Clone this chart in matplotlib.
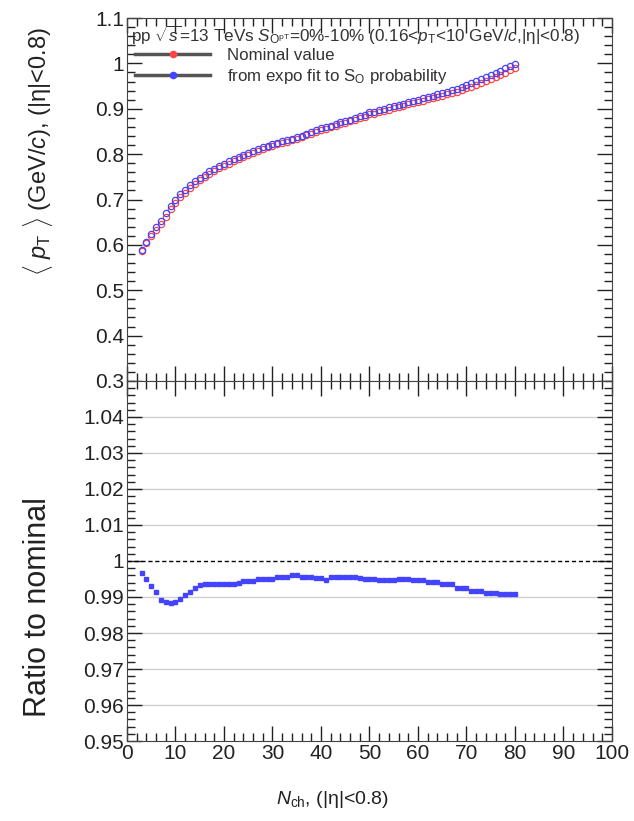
import matplotlib
matplotlib.use("Agg")
import matplotlib.pyplot as plt
import numpy as np
from matplotlib.lines import Line2D
from matplotlib.ticker import MultipleLocator, FixedLocator

plt.rcParams['font.family'] = ['Liberation Sans', 'DejaVu Sans']
plt.rcParams['mathtext.fontset'] = 'custom'
plt.rcParams['mathtext.rm'] = 'Liberation Sans'
plt.rcParams['mathtext.it'] = 'Liberation Sans:italic'

# N_ch bins
nch = list(range(3, 81))

# <pT> from expo fit to S_O probability (blue)
pt_fit = [0.588, 0.606, 0.624, 0.639, 0.653, 0.670, 0.686, 0.700, 0.712, 0.722,
          0.731, 0.740, 0.748, 0.755, 0.762, 0.768, 0.774, 0.779, 0.784, 0.789,
          0.794, 0.799, 0.803, 0.807, 0.811, 0.815, 0.819, 0.822, 0.825, 0.828,
          0.831, 0.834, 0.837, 0.841, 0.845, 0.849, 0.853, 0.857, 0.860, 0.863,
          0.867, 0.870, 0.873, 0.876, 0.880, 0.883, 0.887, 0.892, 0.894, 0.897,
          0.900, 0.903, 0.906, 0.909, 0.911, 0.914, 0.917, 0.920, 0.923, 0.926,
          0.929, 0.932, 0.935, 0.938, 0.941, 0.944, 0.948, 0.952, 0.956, 0.961,
          0.965, 0.970, 0.974, 0.979, 0.984, 0.989, 0.994, 0.999]

# ratio to nominal
ratio = [0.9968, 0.9951, 0.9931, 0.9913, 0.9893, 0.9885, 0.9883, 0.9887, 0.9895, 0.9905,
         0.9915, 0.9924, 0.9932, 0.9936, 0.9937, 0.9937, 0.9937, 0.9937, 0.9937, 0.9937,
         0.9940, 0.9944, 0.9944, 0.9944, 0.9949, 0.9949, 0.9949, 0.9949, 0.9955, 0.9955,
         0.9955, 0.9961, 0.9960, 0.9956, 0.9956, 0.9956, 0.9953, 0.9953, 0.9948, 0.9955,
         0.9955, 0.9955, 0.9956, 0.9956, 0.9956, 0.9953, 0.9951, 0.9951, 0.9950, 0.9948,
         0.9948, 0.9948, 0.9948, 0.9951, 0.9951, 0.9951, 0.9947, 0.9947, 0.9947, 0.9942,
         0.9942, 0.9942, 0.9936, 0.9936, 0.9936, 0.9924, 0.9924, 0.9924, 0.9917, 0.9917,
         0.9917, 0.9912, 0.9912, 0.9912, 0.9907, 0.9907, 0.9907, 0.9907]

pt_nominal = np.array(pt_fit) * np.array(ratio)

fig = plt.figure(figsize=(6.34, 8.21), dpi=100)
ax1 = fig.add_axes([0.2003, 0.536, 0.765, 0.442])
ax2 = fig.add_axes([0.2003, 0.0974, 0.765, 0.4386], sharex=ax1)

ax1.plot(nch, pt_nominal, ls="none", marker="o", ms=4.5, mfc="none", mec="#ff4444", mew=0.9)
ax1.plot(nch, pt_fit, ls="none", marker="o", ms=4.5, mfc="none", mec="#4444ff", mew=0.9)
ax1.set_ylim(0.3, 1.1)
ax1.set_xlim(0, 100)
ax1.yaxis.set_major_locator(FixedLocator([0.3, 0.4, 0.5, 0.6, 0.7, 0.8, 0.9, 1.0, 1.1]))
ax1.set_yticklabels(["0.3", "0.4", "0.5", "0.6", "0.7", "0.8", "0.9", "1", "1.1"])
ax1.yaxis.set_minor_locator(MultipleLocator(0.02))
ax1.tick_params(labelbottom=False)

ax1.text(0.008, 0.952,
         r"pp $\sqrt{s}$=13 TeVs $S_{\rm O^{pT}}$=0%-10% (0.16<$p_{\rm T}$<10 GeV/$c$,|η|<0.8)",
         transform=ax1.transAxes, fontsize=12.3, color="#333333", va="center")
handles = [Line2D([], [], color="#555555", lw=2.5, marker="o", ms=4.5, mfc="#ff4444", mec="#ff4444"),
           Line2D([], [], color="#555555", lw=2.5, marker="o", ms=4.5, mfc="#4444ff", mec="#4444ff")]
ax1.legend(handles, ["Nominal value", r"from expo fit to S$_{\rm O}$ probability"],
           loc="upper left", bbox_to_anchor=(0.0, 0.94), frameon=False, fontsize=12.2,
           handlelength=4.4, handletextpad=1.0, labelspacing=0.2, borderaxespad=0.2,
           borderpad=0.3, labelcolor="#333333")

ax2.plot(nch, ratio, ls="none", marker="s", ms=2.3, color="#4444ff")
ax2.axhline(1.0, color="black", ls=(0, (3, 2)), lw=1)
ax2.set_ylim(0.95, 1.05)
ticks2 = [0.95, 0.96, 0.97, 0.98, 0.99, 1.0, 1.01, 1.02, 1.03, 1.04]
ax2.yaxis.set_major_locator(FixedLocator(ticks2))
ax2.set_yticklabels(["0.95", "0.96", "0.97", "0.98", "0.99", "1", "1.01", "1.02", "1.03", "1.04"])
ax2.yaxis.set_minor_locator(MultipleLocator(0.002))
for t in ticks2[1:]:
    if t != 1.0:
        ax2.axhline(t, color="#d0d0d0", lw=1, zorder=0)
ax2.xaxis.set_major_locator(MultipleLocator(10))
ax2.xaxis.set_minor_locator(MultipleLocator(2))

for ax in (ax1, ax2):
    ax.tick_params(which="both", direction="in", top=True, right=True,
                   labelsize=15, colors="#222222", pad=2)
    ax.tick_params(which="major", length=11, width=1)
    ax.tick_params(which="minor", length=5.5, width=1)
    for s in ax.spines.values():
        s.set_color("#444444")

fig.text(0.06, 0.815, r"$\langle$ $p_{\rm T}$ $\rangle$ (GeV/$c$), (|η|<0.8)",
         rotation=90, ha="center", va="center", fontsize=17, color="#222222")
fig.text(0.06, 0.261, "Ratio to nominal", rotation=90, ha="center", va="center",
         fontsize=22, color="#222222")
fig.text(0.524, 0.026, r"$N_{\rm ch}$, (|η|<0.8)", ha="center", va="center",
         fontsize=14, color="#222222")

fig.savefig("out.png", dpi=100)
